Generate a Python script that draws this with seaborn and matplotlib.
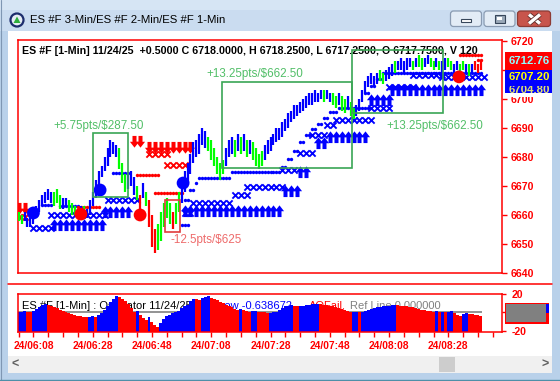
import numpy as np
import pandas as pd
import matplotlib
matplotlib.use("Agg")
import matplotlib.pyplot as plt
import seaborn as sns
from matplotlib.path import Path
from matplotlib.markers import MarkerStyle
from matplotlib.patches import Rectangle, FancyBboxPatch, Circle, Polygon
import matplotlib.patheffects as pe

# ------------------------------------------------------------------ data
window_title = "ES #F 3-Min/ES #F 2-Min/ES #F 1-Min"
header_text = "ES #F [1-Min] 11/24/25  +0.5000 C 6718.0000, H 6718.2500, L 6717.2500, O 6717.7500, V 120"
osc_text_black = "ES #F [1-Min] : Oscillator 11/24/25"
osc_text_blue = "AOGrow -0.638672"
osc_text_red = "AOFail,"
osc_text_gray = "Ref Line 0.000000"

time_labels = ["24/06:08", "24/06:28", "24/06:48", "24/07:08",
               "24/07:28", "24/07:48", "24/08:08", "24/08:28"]
time_label_bars = [5, 25, 45, 65, 85, 105, 125, 145]
price_ticks = [6640, 6650, 6660, 6670, 6680, 6690, 6700, 6710, 6720]
price_tick_labels = ["6640", "6650", "6660", "6670", "6680", "6690", "6700", "", "6720"]
osc_ticks = [-20, 0, 20]
osc_tick_labels = ["-20", "", "20"]

bar_low = [6658, 6657, 6658, 6656, 6656, 6657, 6659, 6661, 6663, 6664,
           6665, 6664, 6663, 6664, 6662, 6662, 6663, 6661, 6660, 6660,
           6659, 6659, 6660, 6659, 6660, 6663, 6666, 6670, 6673, 6675,
           6677, 6680, 6681, 6680, 6676, 6671, 6668, 6669, 6670, 6667,
           6665, 6660, 6666, 6663, 6656, 6649, 6647, 6648, 6651, 6656,
           6659, 6657, 6655, 6657, 6661, 6664, 6668, 6671, 6674, 6678,
           6680, 6681, 6684, 6683, 6682, 6679, 6677, 6674, 6672, 6674,
           6677, 6680, 6681, 6680, 6682, 6681, 6682, 6680, 6681, 6679,
           6677, 6676, 6677, 6679, 6681, 6682, 6684, 6685, 6686, 6687,
           6689, 6690, 6692, 6693, 6694, 6695, 6696, 6697, 6698, 6698,
           6699, 6699, 6700, 6699, 6700, 6699, 6698, 6697, 6698, 6696,
           6695, 6697, 6694, 6693, 6694, 6696, 6699, 6702, 6704, 6705,
           6704, 6705, 6706, 6705, 6706, 6707, 6708, 6709, 6710, 6710,
           6709, 6710, 6711, 6710, 6711, 6711, 6710, 6711, 6712, 6711,
           6710, 6711, 6710, 6709, 6710, 6711, 6710, 6709, 6710, 6709,
           6710, 6709, 6708, 6709, 6710, 6709, 6710]
bar_high = [6661, 6660, 6661, 6659, 6660, 6661, 6663, 6665, 6667, 6668,
            6669, 6668, 6668, 6669, 6667, 6666, 6666, 6665, 6664, 6663,
            6662, 6663, 6663, 6662, 6665, 6668, 6672, 6675, 6677, 6680,
            6683, 6686, 6685, 6684, 6683, 6678, 6674, 6674, 6675, 6673,
            6670, 6667, 6671, 6668, 6665, 6660, 6655, 6657, 6661, 6664,
            6666, 6664, 6661, 6664, 6668, 6671, 6675, 6678, 6681, 6685,
            6686, 6688, 6690, 6689, 6687, 6686, 6683, 6680, 6678, 6679,
            6683, 6686, 6687, 6686, 6688, 6687, 6688, 6686, 6686, 6685,
            6683, 6681, 6682, 6684, 6686, 6687, 6688, 6690, 6690, 6692,
            6693, 6695, 6696, 6698, 6698, 6699, 6700, 6701, 6702, 6702,
            6703, 6702, 6703, 6703, 6703, 6702, 6702, 6701, 6702, 6701,
            6700, 6701, 6699, 6697, 6698, 6700, 6703, 6706, 6708, 6709,
            6708, 6709, 6710, 6709, 6710, 6711, 6712, 6713, 6713, 6714,
            6713, 6714, 6714, 6713, 6714, 6715, 6714, 6714, 6715, 6714,
            6713, 6714, 6713, 6713, 6714, 6714, 6713, 6712, 6713, 6712,
            6713, 6712, 6712, 6712, 6713, 6712, 6713]
bar_color = ("ggbbbbbbbb" "bbgggbbggg" "bbgbbbbbbb" "bbbbgggbbb" "grbgrrrggg"
             "ggrggbbbbb" "bbbbgggggg" "bbbgbgbgbg" "gggbbbbbbb" "bbbbbbbbbb"
             "bbbgbbggbg" "gbggbbbbbb" "bbggbbbgbb" "bbbgbggbbg" "gbgbbggbbg"
             "gbgbrrr")

osc_values = [0.5, 1, 1.5, 1, 0.5, 2, 4, 6, 8, 9,
              8.5, 7.5, 6, 4.5, 3, 1.5, 0.5, -1, -2, -3,
              -3.5, -4, -4.5, -5, -4.5, -4, -5, -3, -1, 3,
              7, 11, 15, 18, 17, 15, 12, 9, 5, 1,
              1.5, -3, -6, -8, -5, -10, -14, -16, -11, -7,
              -4, -3, -1, 0.5, 2, 5, 7, 8, 12, 15,
              14.5, 14, 16, 17, 17.5, 16, 14.5, 13, 11.5, 10,
              8.5, 7, 5.5, 4, 3, 3.5, 2.5, 1.5, 1, 1.5,
              2, 1, 0.5, 0, -0.5, -0.5, 0, 1, 2.5, 4.5,
              6.5, 7.5, 8, 7, 6.5, 7, 7.5, 8, 8.5, 8.7,
              9, 9.2, 8.8, 8.5, 8, 7.5, 6.5, 5.5, 4.5, 3.5,
              2.5, 1.5, 0.5, 0.8, 1, 0.5, 1, 2, 3, 4,
              4.8, 5.5, 6, 6.5, 7, 7.4, 7.8, 8.2, 7.8, 7.4,
              7, 6.5, 6, 5.5, 5, 4, 3.2, 2.5, 2, 1.5,
              1, 1.3, 0.8, 1.0, 0.6, 1, 1.2, -1, -2.5, -4,
              -2, -1, -1.5, -2, -2.5, -3, -3.5]

# indicator runs: (first bar, last bar, price level)
buy_arrows = [(12, 28, 6656.6), (29, 38, 6661.0), (56, 88, 6661.4), (90, 94, 6668.3),
              (95, 98, 6674.8), (101, 104, 6684.8), (105, 118, 6686.9),
              (119, 125, 6699.7), (126, 157, 6703.1)]
sell_arrows = [(0, 3, 6662.4), (39, 42, 6685.5), (44, 58, 6683.4)]
blue_x = [(5, 11, 6655.5), (11, 30, 6660.0), (30, 41, 6665.2), (56, 59, 6660.7),
          (59, 72, 6664.1), (73, 77, 6666.9), (77, 89, 6669.7), (89, 93, 6675.5),
          (95, 99, 6681.4), (99, 104, 6687.6), (104, 107, 6691.0), (107, 119, 6692.8),
          (119, 125, 6696.9), (125, 133, 6704.1), (133, 143, 6708.3), (143, 157, 6707.6)]
red_x = [(0, 3, 6659.3), (44, 50, 6681.0), (50, 56, 6677.2)]
blue_dots = [(8, 11, 6663.4), (14, 20, 6663.1), (32, 37, 6674.5), (55, 57, 6656.6),
             (56, 57, 6665.2), (58, 59, 6668.5), (60, 60, 6671.0), (61, 71, 6672.8),
             (72, 88, 6674.8), (89, 90, 6676.6), (91, 92, 6679.3), (93, 94, 6682.0),
             (95, 96, 6685.0), (97, 98, 6687.5), (99, 100, 6689.5), (101, 102, 6691.5),
             (103, 104, 6693.3), (105, 107, 6695.5), (108, 118, 6697.0), (117, 118, 6702.0),
             (119, 120, 6704.5), (121, 122, 6707.0), (123, 156, 6709.0)]
red_dots = [(20, 27, 6662.8), (40, 47, 6673.8), (46, 55, 6667.6), (149, 156, 6715.2),
            (155, 156, 6713.4)]
big_dot_bar = [5, 21, 27.5, 41, 55.5, 148.6]
big_dot_price = [6660.7, 6660.3, 6668.6, 6660.0, 6671.0, 6707.6]
big_dot_color = ["b", "r", "b", "r", "b", "r"]

# trade boxes: (bar from, bar to, price low, price high, label, label bar, label price, kind)
trade_boxes = [(25.1, 36.9, 6666.2, 6688.3, "+5.75pts/$287.50", 27.1, 6690.7, "win"),
               (68.6, 112.5, 6676.2, 6705.9, "+13.25pts/$662.50", 79.8, 6708.6, "win"),
               (112.5, 143.2, 6695.2, 6716.9, "+13.25pts/$662.50", 140.5, 6690.7, "win"),
               (49.4, 54.5, 6654.1, 6665.2, "-12.5pts/$625", 51.1, 6651.4, "loss")]

value_labels = ["6712.76", "6707.20", "6704.80"]

# ------------------------------------------------------------------ style
sns.set_style("white")
plt.rcParams['font.family'] = ['Liberation Sans', 'DejaVu Sans']

COL = {"b": "#0000ff", "g": "#00ff00", "r": "#ff0000"}
BLUE, RED = "#0000ff", "#ff0000"

W, H = 560, 381
fig = plt.figure(figsize=(W / 100, H / 100), dpi=100)
fig.patch.set_facecolor("#b9d1ea")

# background / window chrome (pixel coordinates)
bg = fig.add_axes([0, 0, 1, 1], zorder=0)
bg.set_xlim(0, W); bg.set_ylim(H, 0); bg.axis("off")
bg.add_patch(Rectangle((0, 0), W, H, fc="#b9d1ea", ec="none"))
bg.add_patch(Rectangle((0, 0), W, 31, fc="#cadcf0", ec="none"))
bg.add_patch(Rectangle((0, 0), W, 10, fc="#d6e5f4", ec="none"))
bg.add_patch(Rectangle((8, 31), 544, 342, fc="white", ec="none"))
bg.plot([0.5, 0.5], [0, H], color="#7f97b3", lw=0.8)
bg.plot([0, W], [379.5, 379.5], color="#4e8fa8", lw=1.0)
# icon
bg.add_patch(Circle((17, 20), 6.5, fc="#e6edf5", ec="#1c2c6c", lw=1.6))
bg.add_patch(Polygon([[13.5, 23], [17, 16.5], [20.5, 23]], closed=True, fc="#2fae3c", ec="none"))
bg.text(30, 20, window_title, fontsize=8.2, color="#000000", va="center", ha="left")
# window buttons
for x0, w, fc, ec in [(450.5, 31, "#e3ecf6", "#8a9bb2"), (484, 31, "#e3ecf6", "#8a9bb2"),
                      (517.5, 33, "#c8554c", "#8d3b34")]:
    bg.add_patch(FancyBboxPatch((x0, 11), w, 15.5, boxstyle="round,pad=0,rounding_size=3",
                                fc=fc, ec=ec, lw=0.9))
bg.add_patch(Rectangle((461, 18.5), 10, 3.2, fc="white", ec="#37465a", lw=0.8))
bg.add_patch(Rectangle((494.5, 14.5), 10, 8, fc="#9aa8b8", ec="#37465a", lw=0.8))
bg.add_patch(Rectangle((497, 16.7), 5, 3.6, fc="white", ec="none"))
for xs, ys in [([529, 540], [14.5, 23.5]), ([529, 540], [23.5, 14.5])]:
    bg.plot(xs, ys, color="white", lw=2.4, solid_capstyle="butt",
            path_effects=[pe.withStroke(linewidth=3.6, foreground="#5b2b27")])
# separator & scrollbar
bg.plot([8, 552], [284, 284], color=RED, lw=1.1)
bg.add_patch(Rectangle((8, 356), 544, 17, fc="#f0f0f0", ec="none"))
bg.add_patch(Rectangle((439, 357), 16, 15, fc="#cdcdcd", ec="none"))
bg.text(15, 364.5, "<", fontsize=9, fontweight="bold", color="#606060", ha="center", va="center")
bg.text(545, 364.5, ">", fontsize=9, fontweight="bold", color="#606060", ha="center", va="center")
# panel texts
bg.text(22, 50.5, header_text, fontsize=7.7, fontweight="bold", color="black", va="center")
bg.text(22, 306, osc_text_black, fontsize=8.0, color="black", va="center")
bg.text(196, 306, osc_text_blue, fontsize=8.0, color=BLUE, va="center")
bg.text(309, 306, osc_text_red, fontsize=8.0, color=RED, va="center")
bg.text(350, 306, osc_text_gray, fontsize=8.0, color="#808080", va="center")

XLIM = (-0.2, 163.1)

# ------------------------------------------------------------------ main price panel
ax = fig.add_axes([18 / W, 1 - 273 / H, 484 / W, 233 / H], zorder=2)
ax.set_facecolor("none")
ax.set_xlim(*XLIM)
ax.set_ylim(6640, 6720.3)
for s in ax.spines.values():
    s.set_color(RED); s.set_linewidth(1.1); s.set_visible(True)
ax.yaxis.tick_right()
ax.set_yticks(price_ticks)
ax.set_yticklabels(price_tick_labels)
ax.tick_params(axis="y", colors=RED, length=3.5, width=1, labelsize=7.6, pad=3, right=True, left=False)
for lab in ax.get_yticklabels():
    lab.set_fontweight("bold")
ax.tick_params(axis="x", bottom=False, labelbottom=False)

bars = pd.DataFrame({"bar": np.arange(len(bar_low)), "low": bar_low, "high": bar_high,
                     "col": list(bar_color)})
ax.vlines(bars["bar"], bars["low"], bars["high"], colors=[COL[c] for c in bars["col"]],
          lw=1.6, zorder=5)


def expand(runs, step):
    xs, ys = [], []
    for a, b, p in runs:
        for i in range(a, b + 1, step):
            xs.append(i); ys.append(p)
    return pd.DataFrame({"bar": xs, "price": ys})


up_path = Path([(-0.36, -1.0), (0.36, -1.0), (0.36, 0.05), (0.82, 0.05), (0.0, 1.1),
                (-0.82, 0.05), (-0.36, 0.05), (-0.36, -1.0)], closed=True)
down_path = Path([(x, -y) for x, y in up_path.vertices], closed=True)

sns.scatterplot(data=expand(blue_dots, 1), x="bar", y="price", marker="o", s=6,
                color=BLUE, linewidth=0, ax=ax, zorder=4, legend=False)
sns.scatterplot(data=expand(red_dots, 1), x="bar", y="price", marker="o", s=6,
                color=RED, linewidth=0, ax=ax, zorder=4, legend=False)
bx = expand(blue_x, 2)
ax.scatter(bx["bar"], bx["price"], marker="x", s=20, color=BLUE, linewidths=1.35, zorder=4)
rx = expand(red_x, 2)
ax.scatter(rx["bar"], rx["price"], marker="x", s=20, color=RED, linewidths=1.35, zorder=4)
sns.scatterplot(data=expand(buy_arrows, 2), x="bar", y="price", marker=MarkerStyle(up_path),
                s=78, color=BLUE, linewidth=0, ax=ax, zorder=4, legend=False)
sns.scatterplot(data=expand(sell_arrows, 2), x="bar", y="price", marker=MarkerStyle(down_path),
                s=78, color=RED, linewidth=0, ax=ax, zorder=4, legend=False)
dots = pd.DataFrame({"bar": big_dot_bar, "price": big_dot_price,
                     "col": [COL[c] for c in big_dot_color]})
ax.scatter(dots["bar"], dots["price"], s=85, c=dots["col"], linewidths=0, zorder=6)

for x0, x1, p0, p1, lab, lx, ly, kind in trade_boxes:
    ec = "#3aa655" if kind == "win" else "#e03c3c"
    tc = "#52bf68" if kind == "win" else "#ee6b6b"
    ax.add_patch(Rectangle((x0, p0), x1 - x0, p1 - p0, fill=False, ec=ec, lw=1.2, zorder=7))
    ax.text(lx, ly, lab, color=tc, fontsize=8.4, ha="center" if kind == "win" else "left",
            va="center", zorder=8)
ax.set_xlim(*XLIM); ax.set_ylim(6640, 6720.3)
ax.set_xlabel(""); ax.set_ylabel("")

# ------------------------------------------------------------------ oscillator panel
ox = fig.add_axes([18 / W, 1 - 332 / H, 484 / W, 38 / H], zorder=2)
ox.set_facecolor("none")
ox.set_xlim(*XLIM)
ox.set_ylim(-21.1, 20)
osc = np.array(osc_values)
osc_col = [BLUE] + [BLUE if osc[i] >= osc[i - 1] else RED for i in range(1, len(osc))]
ox.hlines(0, -0.2, len(osc) - 0.5, color="#808080", lw=1.2, zorder=1)
ox.bar(np.arange(len(osc)), osc + 21.1, bottom=-21.1, width=1.0, color=osc_col,
       linewidth=0, zorder=2)
for s in ox.spines.values():
    s.set_color(RED); s.set_linewidth(1.1); s.set_visible(True)
ox.yaxis.tick_right()
ox.set_yticks(osc_ticks)
ox.set_yticklabels(osc_tick_labels)
ox.tick_params(axis="y", colors=RED, length=3, width=1, labelsize=7.6, pad=4, right=True, left=False)
for lab in ox.get_yticklabels():
    lab.set_fontweight("bold")
xt = list(range(0, 163, 5))
ox.set_xticks(xt)
ox.set_xticklabels([time_labels[time_label_bars.index(t)] if t in time_label_bars else "" for t in xt])
ox.tick_params(axis="x", colors=RED, length=3.5, width=1, labelsize=7.4, pad=3, bottom=True)
for lab in ox.get_xticklabels():
    lab.set_fontweight("bold")
ox.set_xlabel(""); ox.set_ylabel("")

# ------------------------------------------------------------------ foreground overlays
fg = fig.add_axes([0, 0, 1, 1], zorder=10)
fg.set_facecolor("none"); fg.set_xlim(0, W); fg.set_ylim(H, 0); fg.axis("off")
fg.add_patch(Rectangle((505, 52), 47, 18, fc=RED, ec="none", zorder=1))
fg.add_patch(Rectangle((505, 70), 47, 23, fc=BLUE, ec="none", zorder=1))
fg.text(509, 61, value_labels[0], fontsize=8.2, fontweight="bold", color="#8fffff",
        va="center", zorder=2)
fg.text(509, 90, value_labels[2], fontsize=8.2, fontweight="bold", color="#e0e070",
        va="center", zorder=2)
fg.add_patch(Rectangle((505, 70), 47, 15.5, fc=BLUE, ec="none", zorder=3))
fg.add_patch(Rectangle((505, 93), 47, 4, fc="white", ec="none", zorder=3))
fg.text(509, 77, value_labels[1], fontsize=8.2, fontweight="bold", color="#ffff00",
        va="center", zorder=4)
fg.add_patch(Rectangle((505, 303), 44, 21, fc=RED, ec="none", zorder=1))
fg.add_patch(Rectangle((505.5, 304), 40, 18, fc="#808080", ec="none", zorder=2))
fg.add_patch(Rectangle((545.5, 304), 3.5, 9, fc=BLUE, ec="none", zorder=2))

fig.savefig("out.png", dpi=100, facecolor=fig.get_facecolor())
